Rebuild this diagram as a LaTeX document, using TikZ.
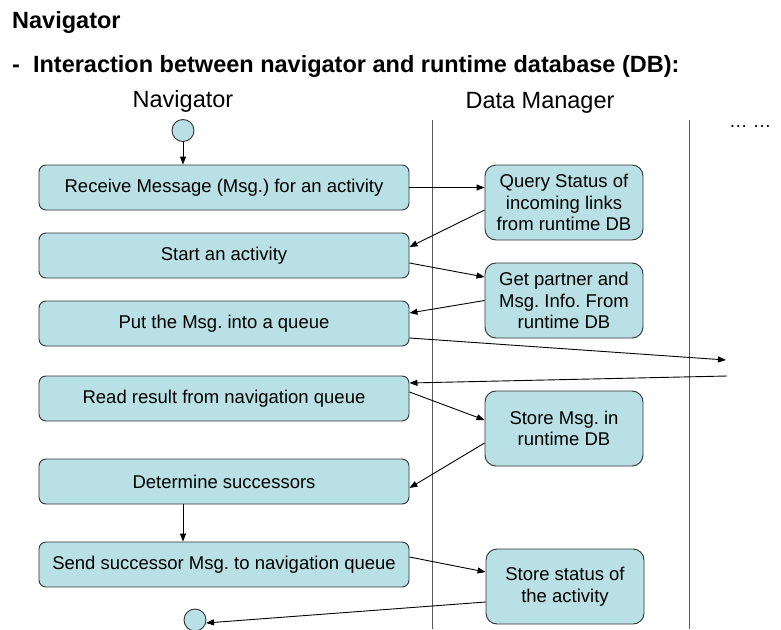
\documentclass[tikz,border=0pt]{standalone}
\usepackage{fontspec}
\setmainfont{Liberation Sans}
\usetikzlibrary{arrows.meta,calc}
\frenchspacing
\definecolor{boxfill}{RGB}{185,224,228}
\definecolor{boxline}{RGB}{50,50,50}
\definecolor{laneline}{RGB}{90,90,90}
\tikzset{
  stepbox/.style={draw=boxline, fill=boxfill, line width=0.9pt, rounded corners=7pt,
    minimum width=370pt, minimum height=45pt, inner sep=0pt,
    font=\fontsize{18.5}{22}\selectfont},
  dbbox/.style={draw=boxline, fill=boxfill, line width=0.9pt, rounded corners=11pt,
    minimum width=158pt, minimum height=75pt, inner sep=0pt, align=center,
    font=\fontsize{18.5}{21.7}\selectfont},
  endpt/.style={circle, draw=boxline, fill=boxfill, line width=0.9pt,
    minimum size=22pt, inner sep=0pt},
  flow/.style={line width=0.9pt, -{Triangle[length=8pt,width=6pt]}},
  lane/.style={draw=laneline, line width=1pt},
  heading/.style={font=\fontsize{23.5}{28}\selectfont\bfseries, anchor=base west, inner sep=0pt},
  lanetitle/.style={font=\fontsize{23.5}{28}\selectfont, anchor=base, inner sep=0pt}
}
\begin{document}
\begin{tikzpicture}[x=1pt,y=-1pt]
\useasboundingbox (0,0) rectangle (781,629);
\clip (0,0) rectangle (781,629);

% headings
\node[heading] (h1) at (12,28) {Navigator};
\node[heading] (h2) at (12,72) {-\ \ Interaction between navigator and runtime database (DB):};

% swimlane titles and separators
\node[lanetitle] (navtitle) at (183,107) {Navigator};
\node[lanetitle] (dmtitle) at (540,108) {Data Manager};
\node[font=\fontsize{18.5}{20}\selectfont, anchor=base west, inner sep=0pt] (more) at (729,127) {… …};
\coordinate (l1top) at (432,120);
\coordinate (l1bot) at (432,629);
\coordinate (l2top) at (689,120);
\coordinate (l2bot) at (689,629);
\draw[lane] (l1top) -- (l1bot);
\draw[lane] (l2top) -- (l2bot);

% navigator activities
\node[endpt] (start) at (183,130.5) {};
\node[stepbox] (b1) at (224,187.5) {Receive Message (Msg.) for an activity};
\node[stepbox] (b2) at (224,255.5) {Start an activity};
\node[stepbox] (b3) at (224,323.5) {Put the Msg. into a queue};
\node[stepbox] (b4) at (224,398.5) {Read result from navigation queue};
\node[stepbox] (b5) at (224,481.5) {Determine successors};
\node[stepbox] (b6) at (224,564.5) {Send successor Msg. to navigation queue};
\node[endpt] (stop) at (195,620) {};

% data manager activities
\node[dbbox] (qa) at (564,202.5) {Query Status of\\incoming links\\from runtime DB};
\node[dbbox] (qb) at (564,300.5) {Get partner and\\Msg. Info. From\\runtime DB};
\node[dbbox] (qc) at (564,428.5) {Store Msg. in\\runtime DB};
\node[dbbox] (qd) at (565,586.5) {Store status of\\the activity};

% queue hand-off points
\coordinate (qout) at (726,360);
\coordinate (qin) at (727,376);

% connectors
\draw[flow] (start) -- (start |- b1.north);
\draw[flow] (b1.east) -- (b1.east -| qa.west);
\draw[flow] ([yshift=-7.5pt]qa.west) -- ([yshift=8.5pt]b2.east);
\draw[flow] ([yshift=-7.5pt]b2.east) -- ([yshift=23.5pt]qb.west);
\draw[flow] (qb.west) -- ([yshift=10.5pt]b3.east);
\draw[flow] ([yshift=-14.5pt]b3.east) -- (qout);
\draw[flow] (qin) -- ([yshift=15.5pt]b4.east);
\draw[flow] ([yshift=6.5pt]b4.east) -- ([yshift=8.5pt]qc.west);
\draw[flow] ([yshift=-14.5pt]qc.west) -- ([yshift=-6.5pt]b5.east);
\draw[flow] ([xshift=-41pt]b5.south) -- ([xshift=-41pt]b6.north);
\draw[flow] ([yshift=7.5pt]b6.east) -- ([yshift=14.5pt]qd.west);
\draw[flow] ([yshift=-15.5pt]qd.west) -- (stop.-15);
\end{tikzpicture}
\end{document}
